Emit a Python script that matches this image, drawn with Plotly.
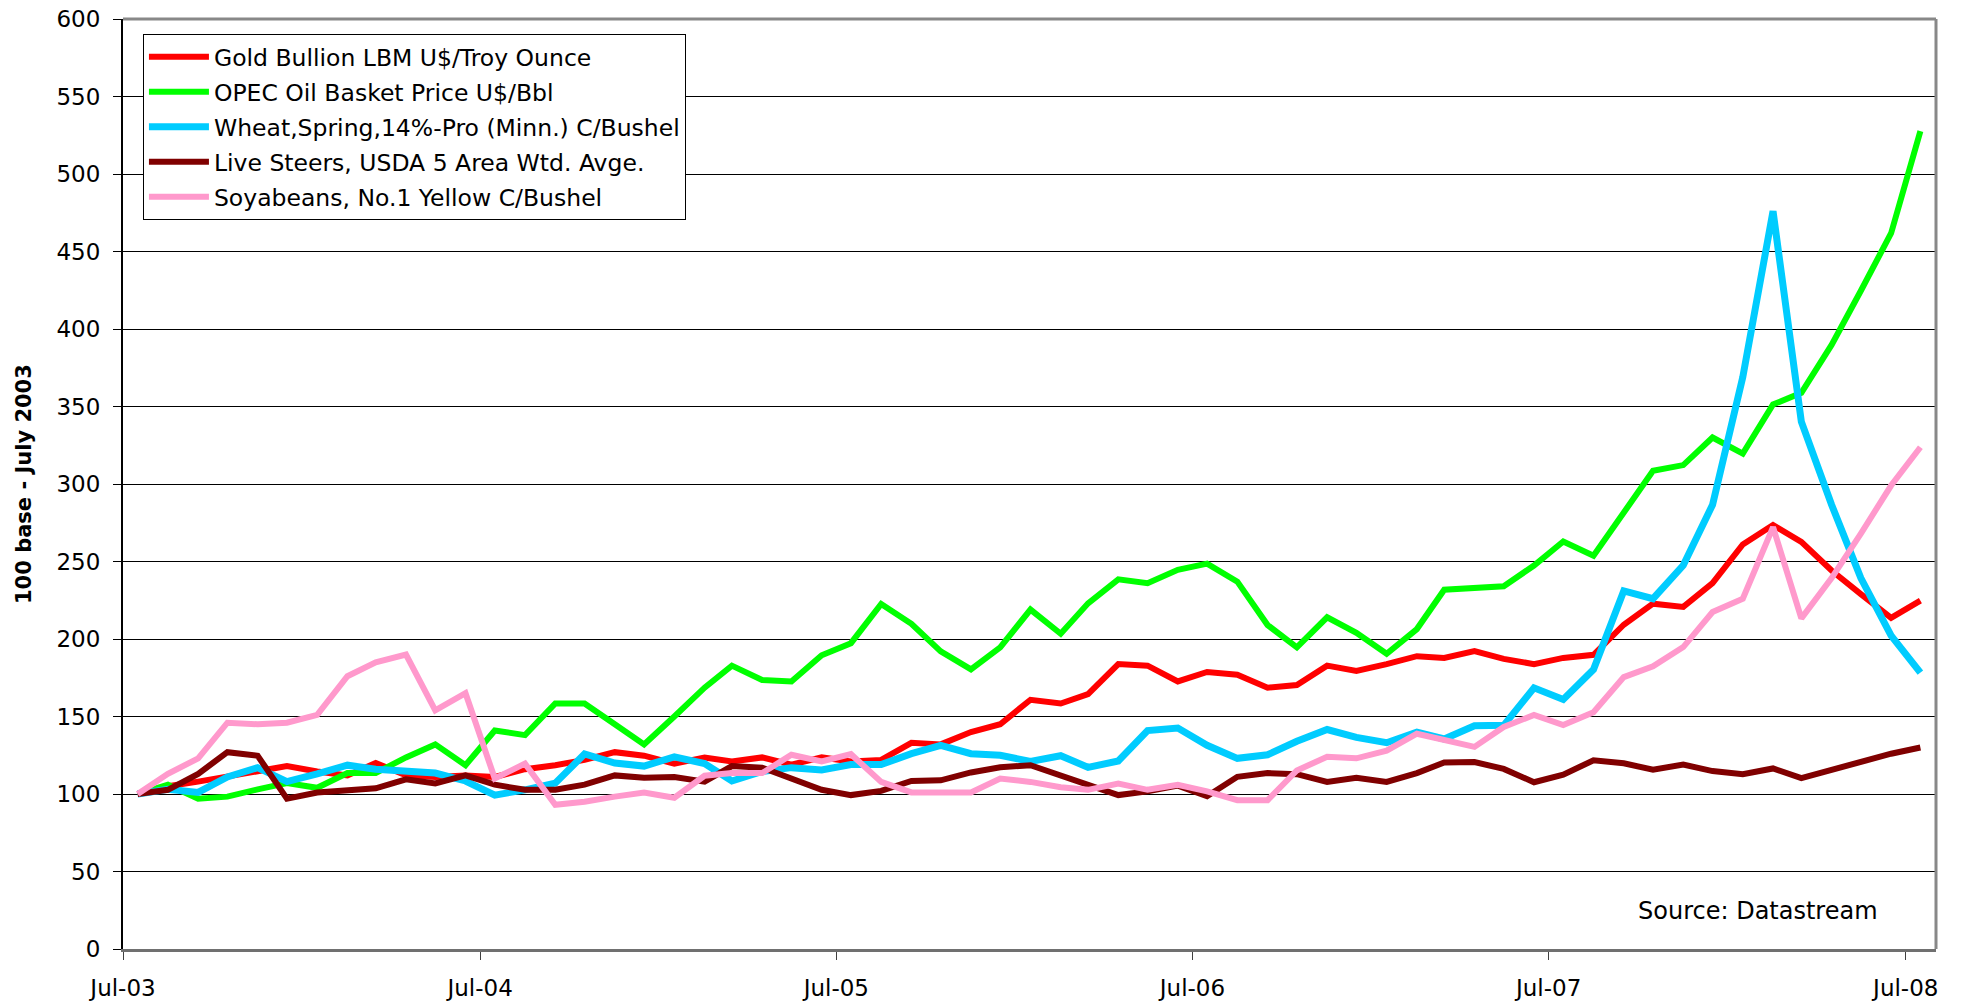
import plotly.graph_objects as go
import pandas as pd

# monthly index, July 2003 = 100
months = pd.date_range("2003-07-01", "2008-07-01", freq="MS")
x = months + pd.Timedelta(days=15)   # points sit mid-month, like Excel categories

gold = [100, 105, 108, 111, 114.5, 118, 114.5, 112, 120, 112, 111, 112, 111, 116, 118.6, 122,
        127, 124.7, 119.6, 123.6, 121, 123.6, 119, 123.6, 121, 122, 133, 132, 140, 145, 160.8,
        158.4, 164.5, 183.8, 182.8, 172.6, 178.7, 177, 168.6, 170.3, 182.8, 179.4, 183.8, 188.9,
        187.8, 192.2, 187.2, 183.8, 187.8, 189.8, 209.2, 222.8, 220.7, 236, 261, 273.5, 262.7,
        244.2, 229, 213.7, 224.8]
oil = [100, 106, 97, 98.3, 103, 107, 104, 113.5, 113.5, 123.6, 132, 118.6, 141, 138, 158.4, 158.4,
       145, 132, 150, 168.6, 182.8, 173.6, 172.6, 189.5, 197.3, 222.6, 209.8, 192, 180.4, 194.6,
       219, 203.4, 223, 238.5, 236, 244.6, 248.6, 237, 209, 194.6, 214, 204, 190.5, 206.4, 231.8,
       233.4, 234, 247.4, 262.9, 253.7, 281.7, 308.5, 312.2, 330, 319.6, 351.3, 358.8, 389.7,
       424.7, 461.8, 527.7]
wheat = [100, 103, 101, 111, 117, 108, 113, 118.6, 116, 114.5, 113.5, 108.4, 99.3, 102.7, 107,
         125.8, 120, 118, 124, 119.6, 108.4, 114.5, 117, 115.5, 119, 119, 126, 131.4, 126, 125,
         121, 124.7, 117.2, 121.3, 140.9, 142.6, 131.4, 123, 125.3, 134, 141.6, 136.5, 133.1,
         139.9, 135.5, 144, 144.3, 168.5, 161, 180.3, 231, 226, 247.5, 286.6, 369, 476, 340.2,
         286.6, 239.3, 202.2, 178.3]
steers = [100, 102.7, 113, 127, 124.7, 97, 101, 102.7, 103.7, 109.5, 106.8, 112, 106, 102.7,
          102.7, 106, 112, 110.5, 111, 108, 118, 117, 109.5, 102.7, 99.3, 102, 108.4, 108.8,
          113.9, 117.2, 118.6, 111.8, 106, 99.3, 101.7, 105.4, 98.6, 111.1, 113.5, 112.8, 107.8,
          110.5, 107.8, 113.5, 120.3, 120.6, 116.2, 107.6, 112.4, 121.8, 119.8, 115.7, 119, 114.8,
          112.8, 116.5, 110.3, 115.7, 120.6, 126, 130]
soy = [100, 113, 123, 146, 145, 146, 151, 176, 185, 190, 154, 165, 110, 119.6, 93, 95, 98.3, 101,
       97.6, 111.8, 113.5, 113.5, 125.3, 121, 125.7, 107.8, 101, 101, 101, 110, 107.8, 104.4,
       102.7, 106.8, 102.7, 106, 101.7, 96, 96, 115.2, 124, 123, 128, 138.9, 134.8, 130.4, 143.2,
       151, 144.5, 152.7, 175.4, 182.4, 194.8, 217.4, 226, 272.2, 213.3, 239.3, 268, 299, 323.7]

names = ["Gold Bullion LBM U$/Troy Ounce",
         "OPEC Oil Basket Price U$/Bbl",
         "Wheat,Spring,14%-Pro (Minn.) C/Bushel",
         "Live Steers, USDA 5 Area Wtd. Avge.",
         "Soyabeans, No.1 Yellow C/Bushel"]
colors = ["#FF0000", "#00FF00", "#00CCFF", "#800000", "#FF99CC"]
widths = [6, 6, 7, 6, 6]

year_ticks = ["2003-07-01", "2004-07-01", "2005-07-01", "2006-07-01", "2007-07-01", "2008-07-01"]

FONT = "DejaVu Sans"

fig = go.Figure()
for i, (nm, ys) in enumerate(zip(names, [gold, oil, wheat, steers, soy])):
    fig.add_trace(go.Scatter(
        x=x, y=ys, name=nm, mode="lines",
        line=dict(color=colors[i], width=widths[i]),
        legendgroup=f"g{i}"))

fig.update_layout(
    width=1979, height=1001,
    template="none",
    paper_bgcolor="white", plot_bgcolor="white",
    margin=dict(l=123, r=43, t=19, b=52),
    font=dict(family=FONT, size=23, color="black"),
    showlegend=True,
    legend=dict(
        x=0.011, y=0.984, xanchor="left", yanchor="top",
        bgcolor="white", bordercolor="black", borderwidth=1,
        font=dict(family=FONT, size=23.5),
        itemwidth=60, tracegroupgap=1.5,
    ),
    xaxis=dict(
        type="date",
        range=["2003-07-01", "2008-08-01"],
        tickmode="array", tickvals=year_ticks, tickformat="%b-%y",
        showgrid=False, zeroline=False,
        showline=True, linecolor="#707070", linewidth=3,
        ticks="outside", ticklen=8, tickcolor="#404040", tickwidth=1,
        ticklabelstandoff=8,
        automargin=False,
    ),
    yaxis=dict(
        range=[0, 600], dtick=50, tick0=0,
        showgrid=True, gridcolor="#000000", gridwidth=1,
        zeroline=False,
        showline=True, linecolor="#000000", linewidth=2,
        ticks="outside", ticklen=8, tickcolor="#000000", tickwidth=1,
        ticklabelstandoff=8,
        automargin=False,
    ),
)

# grey frame on top and right, like the Excel plot area
fig.add_shape(type="line", xref="paper", yref="paper", x0=0, x1=1, y0=1, y1=1,
              line=dict(color="#888888", width=3))
fig.add_shape(type="line", xref="paper", yref="paper", x0=1, x1=1, y0=0, y1=1,
              line=dict(color="#888888", width=3))

fig.add_annotation(text="<b>100 base - July 2003</b>", xref="paper", yref="paper",
                   x=-0.0546, y=0.5, xanchor="center", yanchor="middle",
                   textangle=-90, showarrow=False,
                   font=dict(family=FONT, size=21))
fig.add_annotation(text="Source: Datastream", xref="paper", yref="paper",
                   x=0.902, y=0.041, xanchor="center", yanchor="middle", showarrow=False,
                   font=dict(family=FONT, size=24))

# drop the default body margin so the chart fills the window exactly
fig.write_html("out.html", config={"displayModeBar": False},
               post_script="document.body.style.margin='0';")
